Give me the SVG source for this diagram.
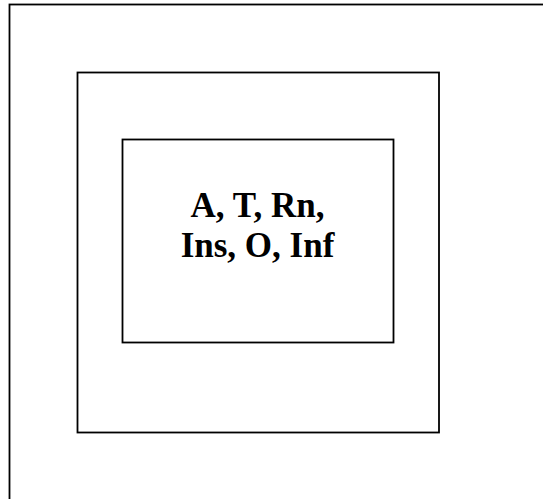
<svg xmlns="http://www.w3.org/2000/svg" width="543" height="499" viewBox="0 0 543 499">
<style>
.box{fill:none;stroke:#000;stroke-width:1.8}
.lbl{font-family:"Liberation Serif","Times New Roman",serif;font-weight:bold;font-size:35px;fill:#000;text-anchor:middle}
</style>
<rect width="543" height="499" fill="#fff"/>
<g id="outer"><rect class="box" x="9.5" y="4.5" width="560" height="520"/></g>
<g id="middle"><rect class="box" x="77.5" y="72.5" width="361.5" height="360"/></g>
<g id="inner"><rect class="box" x="122.5" y="139.5" width="271" height="203"/>
<text class="lbl" x="257.5" y="216.5">A, T, Rn,</text>
<text class="lbl" x="257.5" y="256.5">Ins, O, Inf</text>
</g>
<g id="connectors"/>
</svg>
